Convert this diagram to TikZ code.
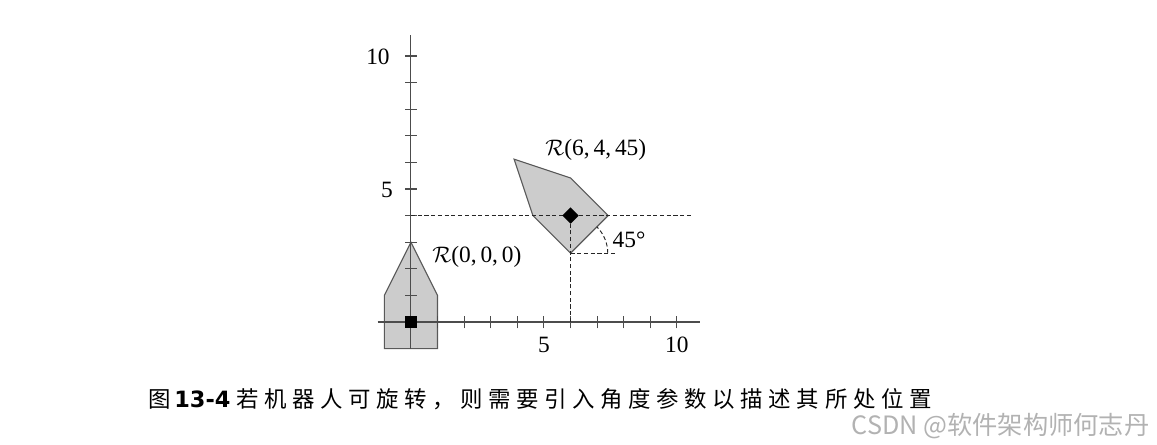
\documentclass[tikz,border=0pt]{standalone}
\usepackage{fontspec}
\setmainfont{Liberation Serif}
\newfontfamily\cjk[LetterSpace=25]{Noto Sans CJK SC}
\newfontfamily\cjkw{Noto Sans CJK SC}
\newfontfamily\tah{DejaVu Sans}
\begin{document}
\begin{tikzpicture}[x=0.5cm,y=0.5cm, line width=0.6pt,
  robot/.style={fill=black!20, draw=black!65, line join=miter},
  axisline/.style={draw=black!70, line width=0.6pt},
  guide/.style={draw=black!85, line width=0.5pt, dash pattern=on 2.2pt off 1.4pt},
  lbl/.style={font=\fontsize{12.5}{14}\selectfont, inner sep=0pt},
  marker/.style={fill=black, inner sep=0pt, minimum size=6.2pt}]
\useasboundingbox (-15.45,-4.59) rectangle (28.05,12.105);
% robot at (0,0,0)
\filldraw[robot] (-1,-1) -- (1,-1) -- (1,1) -- (0,3) -- (-1,1) -- cycle;
% axes
\coordinate (O) at (0,0);
\coordinate (xl) at (-1.25,0);
\coordinate (xr) at (10.85,0);
\coordinate (yb) at (0,-1);
\coordinate (yt) at (0,10.8);
\draw[axisline] (xl) -- (xr);
\draw[axisline] (yb) -- (yt);
\foreach \i in {1,...,10} {
  \draw[axisline] (\i,-0.24) -- (\i,0.24);
  \draw[axisline] (-0.22,\i) -- (0.22,\i);
}
\node[lbl] (y10) at (-1.24,9.96) {10};
\node[lbl] (y5) at (-0.9,4.96) {5};
\node[lbl] (x5) at (5,-0.86) {5};
\node[lbl] (x10) at (10,-0.86) {10};
% rotated robot at (6,4,45)
\begin{scope}[shift={(6,4)},rotate=45]
\filldraw[robot] (-1,-1) -- (1,-1) -- (1,1) -- (0,3) -- (-1,1) -- cycle;
\end{scope}
% guides
\coordinate (P) at (6,4);
\coordinate (Pa) at (0,4);
\coordinate (Pb) at (10.56,4);
\coordinate (Px) at (6,0);
\coordinate (V) at (6,2.586);
\coordinate (Vr) at (7.7,2.586);
\draw[guide] (Pa) -- (Pb);
\draw[guide] (Px) -- (P);
\draw[guide] (V) -- (Vr);
\draw[guide] ([xshift=1.4*0.5cm]V) arc[start angle=0, end angle=45, radius=1.4];
% markers
\node[marker] (m0) at (O) {};
\node[marker, rotate=45] (m1) at (P) {};
% labels
\node[lbl] (l45) at (8.2,3.1) {45°};
\node[lbl] (r0) at (2.48,2.44) {$\mathcal{R}$(0,\,0,\,0)};
\node[lbl] (r1) at (6.95,6.47) {$\mathcal{R}$(6,\,4,\,45)};
% caption
\node[anchor=west, inner sep=0pt] (cap) at (-9.9,-2.89)
  {\fontsize{12}{14}\selectfont{\cjkw 图}\hspace{2pt}{\tah\bfseries 13-4} {\cjk 若机器人可旋转，则需要引入角度参数以描述其所处位置}};
\node[anchor=east, inner sep=0pt, text=black!30] (wm) at (27.78,-3.91)
  {\fontsize{13.5}{15}\selectfont\cjkw CSDN @软件架构师何志丹};
\end{tikzpicture}
\end{document}
